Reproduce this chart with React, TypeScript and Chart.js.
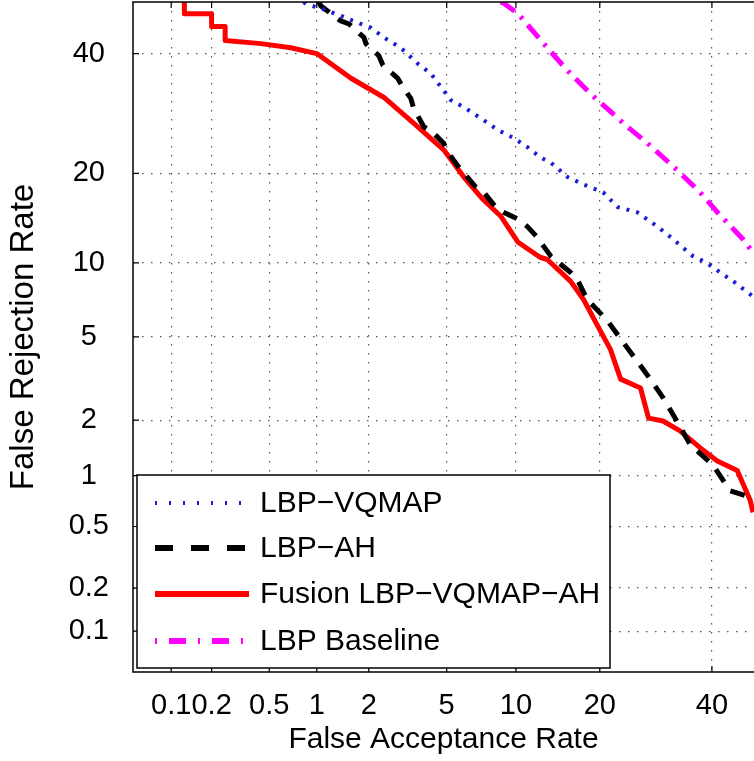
import React, { useEffect, useRef } from 'react';
import { Chart, registerables } from 'chart.js';

Chart.register(...registerables);

// ---- data (percent) ----
const tickValues = [0.1, 0.2, 0.5, 1, 2, 5, 10, 20, 40];
const tickLabels = ['0.1', '0.2', '0.5', '1', '2', '5', '10', '20', '40'];
const axisMinPct = 0.05;
const yMaxPct = 50;
const xMaxPct = 48.7;

const seriesLabels = ['LBP\u2212VQMAP', 'LBP\u2212AH', 'Fusion LBP\u2212VQMAP\u2212AH', 'LBP Baseline'];

const vqmapFAR = [0.83, 0.86, 1.09, 1.39, 1.81, 2.05, 2.41, 2.73, 3.07, 3.62, 4.19, 4.84, 5.22, 5.98, 7.34, 8.42, 9.78, 11.1, 12.4, 13.6, 15.6, 17.7, 20.5, 22.7, 25.9, 29.5, 32.4, 36.2, 39.0, 41.7, 44.4, 48.5];
const vqmapFRR = [50, 49.6, 48.6, 47.3, 45.7, 45.0, 43.1, 41.9, 40.6, 38.1, 36.3, 33.2, 31.5, 30.3, 28.1, 26.5, 25.2, 23.8, 22.3, 21.5, 19.5, 18.5, 17.5, 15.7, 15.1, 13.5, 12.2, 10.6, 10.0, 9.2, 8.5, 7.4];

const ahFAR = [1.03, 1.06, 1.39, 1.55, 1.88, 1.93, 2.27, 2.39, 2.86, 3.04, 3.34, 3.45, 3.88, 4.29, 4.84, 5.05, 5.68, 5.98, 6.77, 7.34, 8.26, 8.9, 10.2, 11.1, 12.1, 12.8, 13.6, 14.4, 16.0, 17.0, 18.2, 21.1, 23.2, 25.9, 28.2, 30.5, 33.1, 35.7, 40.2, 43.7, 47.9];
const ahFRR = [50, 49.2, 46.3, 45.7, 43.1, 41.9, 39.6, 37.8, 35.4, 33.8, 31.8, 30.1, 27.0, 26.1, 24.4, 23.1, 20.9, 20.1, 18.2, 17.5, 15.7, 15.1, 14.3, 13.5, 12.4, 11.5, 10.6, 10.1, 9.2, 8.5, 7.2, 5.9, 4.9, 3.9, 3.2, 2.6, 1.98, 1.48, 1.15, 0.82, 0.75];

const fusionFAR = [0.126, 0.126, 0.2, 0.2, 0.25, 0.25, 0.44, 0.69, 1.0, 1.59, 2.41, 3.45, 4.84, 6.0, 7.3, 8.7, 10.2, 12.4, 13.2, 16.0, 17.7, 20.1, 21.6, 23.2, 26.5, 27.9, 30.5, 33.7, 37.6, 41.1, 45.2, 47.9, 48.5];
const fusionFRR = [50, 47.7, 47.7, 45.2, 45.2, 42.5, 41.9, 41.1, 40, 35.4, 32, 27.6, 23.4, 19.5, 16.6, 14.6, 11.9, 10.5, 10.3, 8.5, 7.2, 5.3, 4.4, 3.2, 2.9, 2.05, 1.98, 1.76, 1.43, 1.21, 1.07, 0.72, 0.61];

const baseFAR = [8.66, 8.9, 10.2, 12.8, 15.6, 18.6, 24.3, 27.7, 33.1, 37.6, 41.1, 46.4, 48.5];
const baseFRR = [50, 49.8, 47.7, 41.9, 36.8, 32.7, 27.0, 24.4, 20.5, 17.5, 15.1, 12.2, 10.9];

// ---- styles ----
const colors = ['#1c1cd6', '#000000', '#ff0000', '#ff00ff'];
const widths = [4, 5, 5, 5];
const dashes: number[][] = [[3, 7], [15, 11], [], [17, 8, 3, 8]];
const legendDashes: number[][] = [[2, 12], [18, 18], [], [2, 12, 17, 12]];
const legendWidths = [4, 6, 6, 6];
const FONT = '"Liberation Sans", Arial, Helvetica, sans-serif';

function invNorm(p: number): number {
  const a = [-3.969683028665376e+01, 2.209460984245205e+02, -2.759285104469687e+02, 1.383577518672690e+02, -3.066479806614716e+01, 2.506628277459239e+00];
  const b = [-5.447609879822406e+01, 1.615858368580409e+02, -1.556989798598866e+02, 6.680131188771972e+01, -1.328068155288572e+01];
  const c = [-7.784894002430293e-03, -3.223964580411365e-01, -2.400758277161838e+00, -2.549732539343734e+00, 4.374664141464968e+00, 2.938163982698783e+00];
  const d = [7.784695709041462e-03, 3.224671290700398e-01, 2.445134137142996e+00, 3.754408661907416e+00];
  const pl = 0.02425;
  if (p < pl) {
    const q = Math.sqrt(-2 * Math.log(p));
    return (((((c[0] * q + c[1]) * q + c[2]) * q + c[3]) * q + c[4]) * q + c[5]) / ((((d[0] * q + d[1]) * q + d[2]) * q + d[3]) * q + 1);
  }
  if (p <= 1 - pl) {
    const q = p - 0.5;
    const r = q * q;
    return (((((a[0] * r + a[1]) * r + a[2]) * r + a[3]) * r + a[4]) * r + a[5]) * q / (((((b[0] * r + b[1]) * r + b[2]) * r + b[3]) * r + b[4]) * r + 1);
  }
  const q = Math.sqrt(-2 * Math.log(1 - p));
  return -(((((c[0] * q + c[1]) * q + c[2]) * q + c[3]) * q + c[4]) * q + c[5]) / ((((d[0] * q + d[1]) * q + d[2]) * q + d[3]) * q + 1);
}
const probit = (pct: number) => invNorm(pct / 100);

const toPoints = (far: number[], frr: number[]) => far.map((f, i) => ({ x: probit(f), y: probit(frr[i]) }));

const frameLegendPlugin = {
  id: 'frameLegend',
  afterDraw(chart: any) {
    const { ctx, chartArea: a, scales } = chart;
    ctx.save();
    ctx.strokeStyle = '#000';
    ctx.lineWidth = 1.5;
    ctx.setLineDash([]);
    ctx.beginPath();
    ctx.moveTo(a.right, a.top);
    ctx.lineTo(a.left, a.top);
    ctx.lineTo(a.left, a.bottom);
    ctx.lineTo(a.right, a.bottom);
    ctx.stroke();
    ctx.lineWidth = 1.2;
    ctx.beginPath();
    const tl = 6;
    for (const v of tickValues) {
      const px = scales.x.getPixelForValue(probit(v));
      ctx.moveTo(px, a.bottom);
      ctx.lineTo(px, a.bottom - tl);
      ctx.moveTo(px, a.top);
      ctx.lineTo(px, a.top + tl);
      const py = scales.y.getPixelForValue(probit(v));
      ctx.moveTo(a.left, py);
      ctx.lineTo(a.left + tl, py);
    }
    ctx.stroke();
    // legend
    const lx = a.left + 4;
    const lw = 473;
    const lh = 193;
    const ly = a.bottom - 4 - lh;
    ctx.fillStyle = '#fff';
    ctx.fillRect(lx, ly, lw, lh);
    ctx.strokeStyle = '#000';
    ctx.lineWidth = 1.5;
    ctx.strokeRect(lx, ly, lw, lh);
    const rows = [28, 73, 119, 166];
    ctx.font = `30px ${FONT}`;
    ctx.textBaseline = 'middle';
    ctx.textAlign = 'left';
    seriesLabels.forEach((lab, i) => {
      const yy = ly + rows[i];
      ctx.save();
      ctx.strokeStyle = colors[i];
      ctx.lineWidth = legendWidths[i];
      ctx.setLineDash(legendDashes[i]);
      ctx.beginPath();
      ctx.moveTo(lx + 18, yy);
      ctx.lineTo(lx + 112, yy);
      ctx.stroke();
      ctx.restore();
      ctx.fillStyle = '#000';
      ctx.fillText(lab, lx + 123, yy + 1);
    });
    ctx.restore();
  },
};

export default function App() {
  const canvasRef = useRef<HTMLCanvasElement | null>(null);

  useEffect(() => {
    if (!canvasRef.current) return;
    const fars = [vqmapFAR, ahFAR, fusionFAR, baseFAR];
    const frrs = [vqmapFRR, ahFRR, fusionFRR, baseFRR];
    const datasets = seriesLabels.map((lab, i) => ({
      label: lab,
      data: toPoints(fars[i], frrs[i]),
      borderColor: colors[i],
      backgroundColor: colors[i],
      borderWidth: widths[i],
      borderDash: dashes[i],
      borderJoinStyle: 'round' as const,
      pointRadius: 0,
      tension: 0,
      fill: false,
    }));
    const tickFont = { family: FONT, size: 29, lineHeight: 1.2 };
    const xTitleFont = { family: FONT, size: 30, lineHeight: 1.2 };
    const yTitleFont = { family: FONT, size: 33, lineHeight: 1.2 };
    const setTicks = (scale: any) => {
      scale.ticks = tickValues.map((v) => ({ value: probit(v) }));
    };
    const chart = new Chart(canvasRef.current, {
      type: 'line',
      data: { datasets },
      plugins: [frameLegendPlugin],
      options: {
        animation: false,
        responsive: true,
        maintainAspectRatio: false,
        events: [],
        layout: { padding: { top: 2, left: 0, right: 0, bottom: 0 } },
        plugins: { legend: { display: false }, tooltip: { enabled: false } },
        scales: {
          x: {
            type: 'linear',
            min: probit(axisMinPct),
            max: probit(xMaxPct),
            afterBuildTicks: setTicks,
            afterFit: (s: any) => { s.height = 89; s.paddingLeft = 0; s.paddingRight = 0; },
            grid: { color: '#555', lineWidth: 1.2, drawTicks: false },
            border: { display: false, dash: [1.5, 7.5] },
            ticks: {
              autoSkip: false,
              maxRotation: 0,
              minRotation: 0,
              padding: 17,
              color: '#000',
              font: tickFont,
              callback: (_v: any, idx: number) => tickLabels[idx],
            },
            title: {
              display: true,
              text: 'False Acceptance Rate',
              color: '#000',
              font: xTitleFont,
              padding: { top: 0, bottom: 3 },
            },
          },
          y: {
            type: 'linear',
            min: probit(axisMinPct),
            max: probit(yMaxPct),
            afterBuildTicks: setTicks,
            afterFit: (s: any) => { s.width = 133; s.paddingTop = 0; s.paddingBottom = 0; },
            grid: { color: '#555', lineWidth: 1.2, drawTicks: false },
            border: { display: false, dash: [1.5, 7.5] },
            ticks: {
              autoSkip: false,
              crossAlign: 'center',
              padding: 24,
              color: '#000',
              font: tickFont,
              callback: (_v: any, idx: number) => tickLabels[idx],
            },
            title: {
              display: true,
              text: 'False Rejection Rate',
              color: '#000',
              font: yTitleFont,
              padding: { top: 4, bottom: 0 },
            },
          },
        },
      } as any,
    });
    return () => chart.destroy();
  }, []);

  return (
    <div style={{ position: 'absolute', left: 0, top: 0, width: 754, height: 761, background: '#fff' }}>
      <canvas ref={canvasRef} />
    </div>
  );
}
